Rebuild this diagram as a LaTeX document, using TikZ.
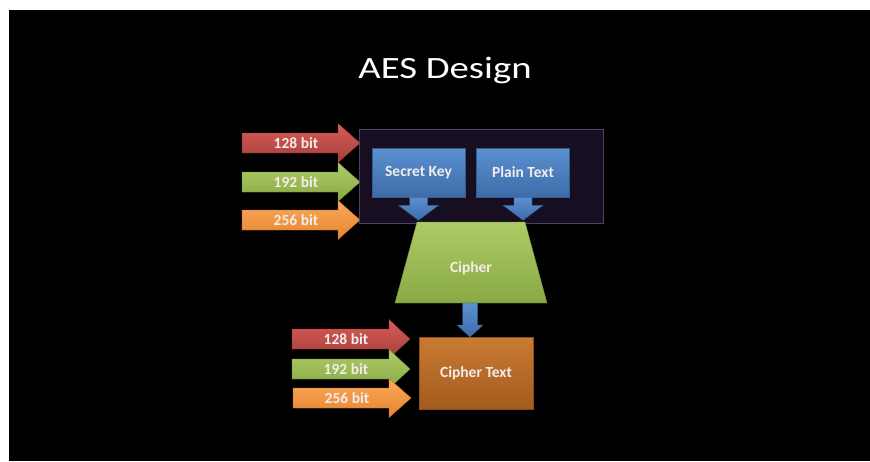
\documentclass[tikz,border=0pt]{standalone}
\usepackage{fontspec}
\setmainfont{Carlito}
\usepackage{graphicx}
\definecolor{redT}{HTML}{D85C56}
\definecolor{redB}{HTML}{A63F3B}
\definecolor{greenT}{HTML}{AECC66}
\definecolor{greenB}{HTML}{88A944}
\definecolor{orangeT}{HTML}{FAA85C}
\definecolor{orangeB}{HTML}{E6852E}
\definecolor{blueT}{HTML}{5C90D1}
\definecolor{blueB}{HTML}{3D6CA8}
\definecolor{ctT}{HTML}{C97B33}
\definecolor{ctB}{HTML}{A35B1E}
\definecolor{darkfill}{HTML}{170F21}
\definecolor{darkline}{HTML}{4A4262}
\definecolor{labelc}{HTML}{F3ECEC}
\tikzset{
  bitlabel/.style={text=labelc, font=\fontsize{15.5}{18}\selectfont\bfseries, inner sep=0pt},
  boxlabel/.style={text=labelc, font=\fontsize{15.5}{18}\selectfont\bfseries, inner sep=0pt},
  bluebox/.style={top color=blueT, bottom color=blueB, draw=blueB!85!black, line width=0.5pt,
    minimum width=93pt, minimum height=49pt, inner sep=0pt, text=labelc,
    font=\fontsize{15.5}{18}\selectfont\bfseries},
  bluearrow/.style={top color=blueT, bottom color=blueB, draw=blueB!85!black, line width=0.4pt},
}
\newcommand\bitarrow[8]{%
  \shade[top color=#6, bottom color=#7, draw=#7!85!black, line width=0.4pt]
    (#2,#5-10) -- (#3,#5-10) -- (#3,#5-19.5) -- (#4,#5) -- (#3,#5+19.5) -- (#3,#5+10) -- (#2,#5+10) -- cycle;
  \node[bitlabel] (#1) at (#2+54,#5) {#8};%
}
\begin{document}
\begin{tikzpicture}[x=1pt,y=-1pt]
\useasboundingbox (0,0) rectangle (870,461);
\fill[white] (0,0) rectangle (870,461);
\fill[black] (9,10) rectangle (870,461);
% title
\node[text=white, font=\fontsize{31}{36}\selectfont, anchor=base, inner sep=0pt] (title) at (445,78) {\scalebox{1.25}[1]{AES Design}};
% input bit arrows
\bitarrow{in128}{242}{338}{360}{143}{redT}{redB}{128 bit}
\bitarrow{in192}{242}{338}{360}{182}{greenT}{greenB}{192 bit}
\bitarrow{in256}{242}{338}{360}{220}{orangeT}{orangeB}{256 bit}
% dark container
\node[fill=darkfill, draw=darkline, line width=0.8pt, minimum width=244pt, minimum height=94pt, inner sep=0pt] (outer) at (481,176) {};
% blue boxes
\node[bluebox] (sk) at (418.5,172.5) {Secret Key};
\node[bluebox] (pt) at (523,172.5) {Plain Text};
% cipher trapezoid
\shade[top color=greenT, bottom color=greenB, draw=greenB!85!black, line width=0.4pt]
  (417,222) -- (525,222) -- (547,303) -- (395,303) -- cycle;
\node[boxlabel] (cipher) at (471,268) {Cipher};
\coordinate (cipherbot) at (470,303);
% blue arrows into cipher
\shade[bluearrow] ([xshift=-9pt]sk.south) -- ++(0,8) -- ++(-11,0) -- ++(20,15) -- ++(20,-15) -- ++(-11,0) -- ++(0,-8) -- cycle;
\shade[bluearrow] ([xshift=-9pt]pt.south) -- ++(0,8) -- ++(-11,0) -- ++(20,15) -- ++(20,-15) -- ++(-11,0) -- ++(0,-8) -- cycle;
% cipher text box
\node[top color=ctT, bottom color=ctB, draw=ctB!85!black, line width=0.5pt, minimum width=114pt, minimum height=72pt, inner sep=0pt, text=labelc, font=\fontsize{15.5}{18}\selectfont\bfseries] (ct) at (476,373) {Cipher Text};
% blue arrow cipher -> cipher text
\shade[bluearrow] ([xshift=-7.5pt]cipherbot) -- ++(0,22) -- ++(-5.5,0) -- ++(13,12) -- ++(13,-12) -- ++(-5.5,0) -- ++(0,-22) -- cycle;
% output bit arrows
\bitarrow{out128}{292}{389}{410}{339}{redT}{redB}{128 bit}
\bitarrow{out192}{292}{389}{410}{369}{greenT}{greenB}{192 bit}
\bitarrow{out256}{293}{389}{411}{398}{orangeT}{orangeB}{256 bit}
\end{tikzpicture}
\end{document}
